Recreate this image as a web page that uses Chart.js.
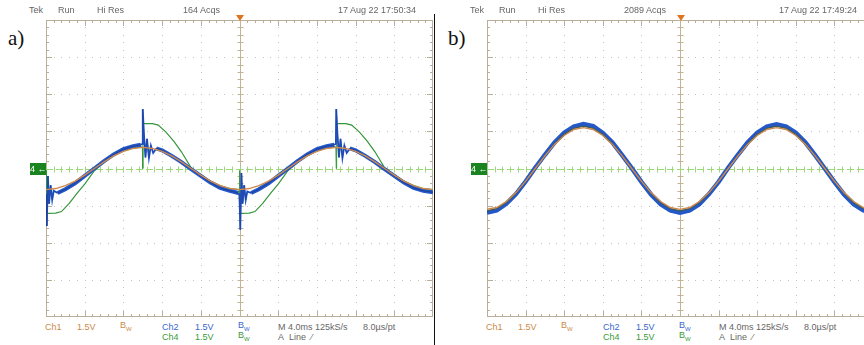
<!DOCTYPE html>
<html lang="en">
<head>
<meta charset="UTF-8">
<title>Scope captures a) b)</title>
<script src="https://cdn.jsdelivr.net/npm/chart.js"></script>
<style>
    body { margin: 0; background: #fff; }
    #page { position: relative; width: 864px; height: 345px; overflow: hidden; background: #fff;
            font-family: "Liberation Sans", Arial, sans-serif; }
    .abs { position: absolute; white-space: nowrap; }
    .t { font-size: 9px; line-height: 11px; color: #666; }
    .o { color: #c98a4a; }
    .b { color: #3a66cc; }
    .g { color: #3a9a3a; }
    .lbl { font-family: "Liberation Serif", "DejaVu Serif", serif; font-size: 21px; color: #111; }
    .trig { width: 0; height: 0; border-left: 4px solid transparent; border-right: 4px solid transparent;
            border-top: 6px solid #e0741e; }
    .mark { background: #1a8420; color: #fff; font-size: 9px; line-height: 12px; width: 16px; height: 12px;
            text-align: center; }
    canvas { position: absolute; }
</style>
</head>
<body>
<div id="page">
    <div class="abs" style="left:434px; top:14px; width:1px; height:331px; background:#111;"></div>
    <canvas id="scopeA" width="387" height="297" style="left:46px; top:20px;"></canvas>
    <canvas id="scopeB" width="386" height="297" style="left:487px; top:20px;"></canvas>
</div>

<script>
// time axis, divisions (10 div = 40 ms)
const gridT = [0, 0.25, 0.5, 0.75, 1, 1.25, 1.5, 1.75, 2, 2.25, 2.5, 2.75, 3, 3.25, 3.5, 3.75, 4, 4.25, 4.5, 4.75,
    5, 5.25, 5.5, 5.75, 6, 6.25, 6.5, 6.75, 7, 7.25, 7.5, 7.75, 8, 8.25, 8.5, 8.75, 9, 9.25, 9.5, 9.75, 10];

// panel a) - values in divisions
const ch1A = [-0.57, -0.54, -0.46, -0.34, -0.18, 0, 0.18, 0.34, 0.46, 0.54, 0.57, 0.54, 0.46, 0.34, 0.18, 0, -0.18, -0.34, -0.46, -0.54,
    -0.57, -0.54, -0.46, -0.34, -0.18, 0, 0.18, 0.34, 0.46, 0.54, 0.57, 0.54, 0.46, 0.34, 0.18, 0, -0.18, -0.34, -0.46, -0.54, -0.57];

const ch2AT = [0, 0.02, 0.05, 0.08, 0.12, 0.16, 0.2, 0.3, 0.5, 0.75, 1, 1.25, 1.5, 1.75, 2, 2.25, 2.45, 2.49, 2.5, 2.53,
    2.57, 2.61, 2.66, 2.71, 2.77, 2.85, 3, 3.25, 3.5, 3.75, 4, 4.25, 4.5, 4.75, 4.97,
    5, 5.02, 5.05, 5.08, 5.12, 5.16, 5.2, 5.3, 5.5, 5.75, 6, 6.25, 6.5, 6.75, 7, 7.25, 7.45, 7.49, 7.5, 7.53,
    7.57, 7.61, 7.66, 7.71, 7.77, 7.85, 8, 8.25, 8.5, 8.75, 9, 9.25, 9.5, 9.75, 10];
const ch2AV = [-0.7, -1.55, -0.2, -0.95, -0.45, -0.85, -0.6, -0.66, -0.56, -0.4, -0.2, 0, 0.2, 0.38, 0.52, 0.6, 0.64, 0.66, 1.6, 0.95,
    0.3, 0.8, 0.28, 0.62, 0.42, 0.54, 0.49, 0.34, 0.17, -0.02, -0.2, -0.38, -0.52, -0.6, -0.66,
    -0.72, -1.65, -0.12, -0.95, -0.45, -0.85, -0.62, -0.66, -0.56, -0.4, -0.2, 0, 0.2, 0.38, 0.52, 0.6, 0.64, 0.66, 1.6, 0.95,
    0.3, 0.8, 0.28, 0.62, 0.42, 0.54, 0.49, 0.34, 0.17, -0.02, -0.2, -0.38, -0.52, -0.6, -0.64];

const ch4AT = [0, 0.01, 0.25, 0.4, 0.6, 0.8, 1, 1.25, 1.5, 1.75, 2, 2.25, 2.49, 2.5, 2.51, 2.75, 2.9, 3.1, 3.3, 3.5,
    3.75, 4, 4.25, 4.5, 4.75, 4.99, 5, 5.01, 5.25, 5.4, 5.6, 5.8, 6, 6.25, 6.5, 6.75, 7, 7.25, 7.49, 7.5,
    7.51, 7.75, 7.9, 8.1, 8.3, 8.5, 8.75, 9, 9.25, 9.5, 9.75, 10];
const ch4AV = [-0.05, -1.21, -1.2, -1.16, -0.94, -0.67, -0.42, -0.06, 0.17, 0.35, 0.47, 0.55, 0.58, 0, 1.21, 1.21, 1.17, 0.98, 0.74, 0.45,
    0.02, -0.18, -0.34, -0.46, -0.54, -0.57, -0.05, -1.21, -1.2, -1.16, -0.94, -0.67, -0.42, -0.06, 0.17, 0.35, 0.47, 0.55, 0.58, 0,
    1.21, 1.21, 1.17, 0.98, 0.74, 0.45, 0.02, -0.18, -0.34, -0.46, -0.54, -0.57];

// panel b)
const ch1B = [-1.1, -1.05, -0.89, -0.65, -0.34, 0, 0.34, 0.65, 0.89, 1.05, 1.1, 1.05, 0.89, 0.65, 0.34, 0, -0.34, -0.65, -0.89, -1.05,
    -1.1, -1.05, -0.89, -0.65, -0.34, 0, 0.34, 0.65, 0.89, 1.05, 1.1, 1.05, 0.89, 0.65, 0.34, 0, -0.34, -0.65, -0.89, -1.05, -1.1];
const ch2B = [-1.19, -1.13, -0.95, -0.69, -0.35, 0.02, 0.37, 0.7, 0.96, 1.13, 1.2, 1.14, 0.96, 0.7, 0.36, 0.01, -0.36, -0.7, -0.96, -1.13,
    -1.19, -1.13, -0.96, -0.69, -0.36, 0.02, 0.37, 0.7, 0.96, 1.13, 1.19, 1.13, 0.96, 0.7, 0.36, 0, -0.36, -0.7, -0.96, -1.13, -1.18];
const ch4B = [-1.14, -1.08, -0.92, -0.67, -0.35, 0, 0.35, 0.67, 0.92, 1.08, 1.14, 1.08, 0.92, 0.67, 0.35, 0, -0.35, -0.67, -0.92, -1.08,
    -1.14, -1.08, -0.92, -0.67, -0.35, 0, 0.35, 0.67, 0.92, 1.08, 1.14, 1.08, 0.92, 0.67, 0.35, 0, -0.35, -0.67, -0.92, -1.08, -1.14];

const headerA = ['Tek', 'Run', 'Hi Res', '164 Acqs', '17 Aug 22 17:50:34'];
const headerB = ['Tek', 'Run', 'Hi Res', '2089 Acqs', '17 Aug 22 17:49:24'];

const C1 = '#d08a4c', C2 = '#2457c8', C4 = '#36963a';

function pts(ts, vs) {
    return ts.map((t, i) => ({ x: t, y: vs[i] }));
}

// thin pen on the fast switching transients, thick on the noisy sine
function spikeWidth(thick, thin) {
    return c => (c.p1.parsed.x - c.p0.parsed.x < 0.1 ? thin : thick);
}

// Tek style graticule
const graticule = {
    id: 'graticule',
    beforeDatasetsDraw(chart) {
        const { ctx, chartArea: a, scales: { x, y } } = chart;
        ctx.save();
        // dotted grid
        ctx.fillStyle = '#c2c2c2';
        for (let i = 1; i < 10; i++) {
            if (i === 5) continue;
            const px = Math.round(x.getPixelForValue(i));
            for (let j = 0; j <= 40; j++) {
                ctx.fillRect(px, Math.round(y.getPixelForValue(-4 + j * 0.2)), 1, 1);
            }
        }
        for (let j = -3; j <= 3; j++) {
            if (j === 0) continue;
            const py = Math.round(y.getPixelForValue(j));
            for (let i = 0; i <= 50; i++) {
                ctx.fillRect(Math.round(x.getPixelForValue(i * 0.2)), py, 1, 1);
            }
        }
        // frame + edge ticks
        ctx.strokeStyle = '#b9ae9a';
        ctx.lineWidth = 1;
        ctx.strokeRect(a.left + 0.5, a.top + 0.5, a.width - 1, a.height - 1);
        ctx.beginPath();
        for (let i = 0; i <= 50; i++) {
            const px = Math.round(x.getPixelForValue(i * 0.2)) + 0.5;
            const len = i % 5 === 0 ? 6 : 3;
            ctx.moveTo(px, a.top); ctx.lineTo(px, a.top + len);
            ctx.moveTo(px, a.bottom); ctx.lineTo(px, a.bottom - len);
        }
        for (let j = 0; j <= 40; j++) {
            const py = Math.round(y.getPixelForValue(-4 + j * 0.2)) + 0.5;
            const len = j % 5 === 0 ? 6 : 3;
            ctx.moveTo(a.left, py); ctx.lineTo(a.left + len, py);
            ctx.moveTo(a.right, py); ctx.lineTo(a.right - len, py);
        }
        ctx.stroke();
        // centre vertical line
        const cx = Math.round(x.getPixelForValue(5)) + 0.5;
        ctx.strokeStyle = '#c3b497';
        ctx.beginPath();
        ctx.moveTo(cx, a.top); ctx.lineTo(cx, a.bottom);
        for (let j = 0; j <= 40; j++) {
            const py = Math.round(y.getPixelForValue(-4 + j * 0.2)) + 0.5;
            ctx.moveTo(cx - 3, py); ctx.lineTo(cx + 3, py);
        }
        ctx.stroke();
        // centre horizontal line (Ch4 level)
        const cy = Math.round(y.getPixelForValue(0)) + 0.5;
        ctx.strokeStyle = '#9bd87a';
        ctx.setLineDash([7, 3]);
        ctx.beginPath();
        ctx.moveTo(a.left, cy); ctx.lineTo(a.right, cy);
        ctx.stroke();
        ctx.setLineDash([]);
        ctx.beginPath();
        for (let i = 0; i <= 50; i++) {
            const px = Math.round(x.getPixelForValue(i * 0.2)) + 0.5;
            ctx.moveTo(px, cy - 3); ctx.lineTo(px, cy + 3);
        }
        ctx.stroke();
        ctx.restore();
    }
};

function makeScope(id, sets) {
    const ctx = document.getElementById(id).getContext('2d');
    return new Chart(ctx, {
        type: 'line',
        data: { datasets: sets },
        options: {
            responsive: false,
            animation: false,
            devicePixelRatio: 1,
            layout: { padding: 0 },
            elements: { point: { radius: 0 }, line: { tension: 0 } },
            scales: {
                x: { type: 'linear', min: 0, max: 10, display: false },
                y: { min: -4, max: 4, display: false }
            },
            plugins: { legend: { display: false }, tooltip: { enabled: false } }
        },
        plugins: [graticule]
    });
}

// first dataset is drawn on top
makeScope('scopeA', [
    { data: pts(gridT, ch1A), borderColor: C1, borderWidth: 1.4 },
    { data: pts(ch2AT, ch2AV), borderColor: '#1d3f96', borderWidth: 1, segment: { borderWidth: spikeWidth(1, 0.6) } },
    { data: pts(ch2AT, ch2AV), borderColor: C2, borderWidth: 4, segment: { borderWidth: spikeWidth(4, 1.8) } },
    { data: pts(ch4AT, ch4AV), borderColor: C4, borderWidth: 1.2, segment: { borderWidth: spikeWidth(1.2, 1) } }
]);
makeScope('scopeB', [
    { data: pts(gridT, ch1B), borderColor: C1, borderWidth: 1.4 },
    { data: pts(gridT, ch4B), borderColor: '#3d5e58', borderWidth: 1.2 },
    { data: pts(gridT, ch2B), borderColor: C2, borderWidth: 4.5 }
]);

// scope annotations (HTML text)
const page = document.getElementById('page');
function put(html, cls, left, top) {
    const d = document.createElement('div');
    d.className = 'abs ' + cls;
    d.style.left = left + 'px';
    d.style.top = top + 'px';
    d.innerHTML = html;
    page.appendChild(d);
    return d;
}
const headX = [29, 58, 97, 183, 338];
[[0, headerA], [441, headerB]].forEach(([off, hdr]) => {
    hdr.forEach((s, i) => put(s, 't', headX[i] + off, 5));
    put('', 'trig', 236 + off, 15);
    put('4 &#8592;', 'mark', 30 + off, 163);
    put('Ch1', 't o', 45 + off, 322);
    put('1.5V', 't o', 77 + off, 322);
    put('B<sub style="font-size:6px">W</sub>', 't o', 120 + off, 320);
    put('Ch2', 't b', 162 + off, 322);
    put('1.5V', 't b', 195 + off, 322);
    put('B<sub style="font-size:6px">W</sub>', 't b', 238 + off, 320);
    put('Ch4', 't g', 162 + off, 332);
    put('1.5V', 't g', 195 + off, 332);
    put('B<sub style="font-size:6px">W</sub>', 't g', 238 + off, 330);
    put('M 4.0ms 125kS/s', 't', 278 + off, 322);
    put('8.0µs/pt', 't', 363 + off, 322);
    put('A&nbsp; Line&nbsp; &#8260;', 't', 278 + off, 332);
});
put('a)', 'lbl', 8, 26);
put('b)', 'lbl', 448, 26);
</script>
</body>
</html>
